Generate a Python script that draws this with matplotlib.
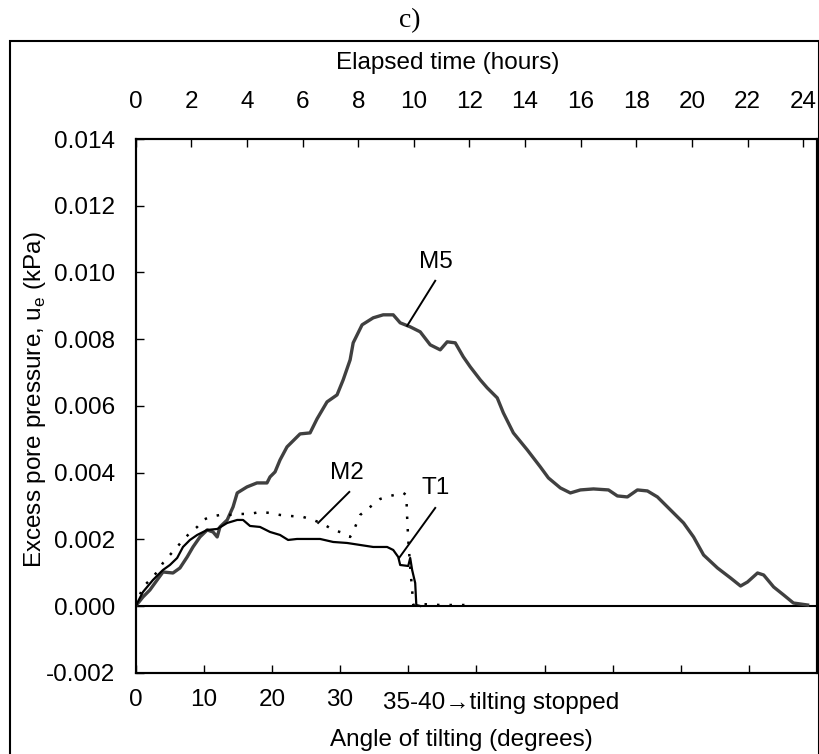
import matplotlib
matplotlib.use("Agg")
import matplotlib.pyplot as plt
from matplotlib.patches import Rectangle

plt.rcParams['font.family'] = ['Liberation Sans', 'DejaVu Sans']
plt.rcParams['font.size'] = 17.5
plt.rcParams['axes.unicode_minus'] = False
plt.rcParams['mathtext.fontset'] = 'custom'
plt.rcParams['mathtext.rm'] = 'Liberation Sans'

# elapsed time (hours) and excess pore pressure (kPa)
m5_t = [0.0, 0.26, 0.51, 0.77, 0.98, 1.34, 1.59, 1.85, 2.06, 2.31, 2.57, 2.78, 2.93, 3.03,
        3.29, 3.50, 3.65, 4.00, 4.36, 4.72, 4.83, 5.01, 5.19, 5.44, 5.91, 6.27, 6.52, 6.88,
        7.24, 7.46, 7.71, 7.82, 8.14, 8.54, 8.90, 9.26, 9.51, 9.87, 10.23, 10.59, 10.95,
        11.20, 11.49, 11.78, 12.03, 12.39, 12.64, 13.00, 13.22, 13.58, 14.08, 14.55, 14.84,
        15.27, 15.63, 15.99, 16.46, 17.00, 17.32, 17.68, 18.04, 18.40, 18.76, 19.23, 19.70,
        20.06, 20.42, 20.92, 21.39, 21.75, 22.00, 22.36, 22.58, 22.94, 23.30, 23.65, 24.16]
m5_u = [0.0, 0.00027, 0.00048, 0.00078, 0.00102, 0.00099, 0.00114, 0.00147, 0.00177, 0.00207,
        0.00228, 0.00222, 0.00207, 0.00237, 0.00258, 0.00297, 0.00339, 0.00357, 0.00369,
        0.00369, 0.00387, 0.00402, 0.00438, 0.00477, 0.00516, 0.00519, 0.00561, 0.00612,
        0.00633, 0.00678, 0.00738, 0.00789, 0.00843, 0.00864, 0.00873, 0.00873, 0.00849,
        0.00837, 0.00822, 0.00783, 0.00768, 0.00792, 0.00789, 0.00747, 0.00717, 0.00678,
        0.00654, 0.00624, 0.00579, 0.00519, 0.00468, 0.00417, 0.00384, 0.00354, 0.00339,
        0.00348, 0.00351, 0.00348, 0.00330, 0.00327, 0.00348, 0.00345, 0.00327, 0.00288,
        0.00249, 0.00207, 0.00153, 0.00114, 0.00084, 0.00060, 0.00072, 0.00099, 0.00093,
        0.00057, 0.00033, 0.00009, 0.00003]

t1_t = [0.0, 0.26, 0.62, 0.87, 0.98, 1.23, 1.49, 1.70, 1.95, 2.21, 2.57, 2.93, 3.29, 3.65,
        3.86, 4.11, 4.47, 4.83, 5.19, 5.48, 5.80, 6.27, 6.63, 7.10, 7.60, 8.07, 8.54, 9.04,
        9.26, 9.44, 9.51, 9.80, 9.87, 9.94, 10.05, 10.09, 10.23]
t1_u = [0.0, 0.00042, 0.00078, 0.00099, 0.00108, 0.00123, 0.00144, 0.00177, 0.00198, 0.00213,
        0.00228, 0.00231, 0.00249, 0.00258, 0.00258, 0.00240, 0.00237, 0.00222, 0.00213,
        0.00198, 0.00201, 0.00201, 0.00201, 0.00192, 0.00189, 0.00183, 0.00177, 0.00177,
        0.00168, 0.00147, 0.00123, 0.00120, 0.00144, 0.00108, 0.00069, 0.00003, 0.0]

m2_t = [0.0, 0.26, 0.51, 0.77, 0.98, 1.23, 1.49, 1.70, 1.95, 2.21, 2.42, 2.67, 3.03, 3.39,
        3.75, 4.11, 4.47, 4.83, 5.19, 5.55, 6.02, 6.38, 6.74, 7.10, 7.46, 7.71, 7.89, 8.07,
        8.43, 8.79, 9.15, 9.62, 9.73, 9.76, 9.80, 9.87, 9.94, 9.98, 10.23, 10.95, 12.0]
m2_u = [0.0, 0.00057, 0.00078, 0.00102, 0.00129, 0.00153, 0.00177, 0.00198, 0.00219, 0.00237,
        0.00258, 0.00267, 0.00273, 0.00273, 0.00276, 0.00276, 0.00282, 0.00279, 0.00273,
        0.00270, 0.00267, 0.00258, 0.00246, 0.00228, 0.00219, 0.00207, 0.00237, 0.00273,
        0.00297, 0.00321, 0.00330, 0.00339, 0.00333, 0.00267, 0.00198, 0.00117, 0.00048,
        0.00003, 0.00006, 0.00003, 0.00003]

# labels: name, text position, leader line (start, end)
lab_names = ['M5', 'M2', 'T1']
lab_xy = [(10.81, 0.01031), (7.60, 0.00399), (10.77, 0.00354)]
lab_line_t = [(10.77, 9.76), (7.68, 6.56), (10.77, 9.47)]
lab_line_u = [(0.00975, 0.00840), (0.00342, 0.00249), (0.00294, 0.00144)]

hour_ticks = list(range(0, 25, 2))
angle_ticks = list(range(0, 101, 10))
angle_labels = ['0', '10', '20', '30', '', '', '', '', '', '', '']
y_ticks = [-0.002, 0.0, 0.002, 0.004, 0.006, 0.008, 0.010, 0.012, 0.014]

fig = plt.figure(figsize=(8.2, 7.54), dpi=100)
ax = fig.add_axes([0.1655, 0.1078, 0.8309, 0.7078])

# bottom axis: angle of tilting
ax.set_xlim(0, 100)
ax.set_ylim(-0.002, 0.014)
ax.set_xticks(angle_ticks)
ax.set_xticklabels(angle_labels)
ax.set_yticks(y_ticks)
ax.set_yticklabels(['%.3f' % v for v in y_ticks])
ax.tick_params(axis='x', direction='in', length=6, width=1, pad=12, top=False)
ax.tick_params(axis='y', direction='in', length=6, width=1, pad=15, right=False)
ax.text(36.3, -0.057, '35-40\u2192tilting stopped', transform=ax.get_xaxis_transform(),
        ha='left', va='center')
ax.set_xlabel('Angle of tilting (degrees)')
ax.xaxis.set_label_coords(0.4775, -0.105)
ax.xaxis.label.set_va('top')
ax.set_ylabel('Excess pore pressure, u$_\\mathregular{e}$ (kPa)')
ax.yaxis.set_label_coords(-0.128, 0.511)

# top axis: elapsed time
ax2 = ax.twiny()
ax2.set_xlim(0, 24.5)
ax2.set_xticks(hour_ticks)
ax2.tick_params(axis='x', direction='in', length=6, width=1, pad=19)
ax2.set_xlabel('Elapsed time (hours)')
ax2.xaxis.set_label_coords(0.458, 1.122)
ax2.xaxis.label.set_va('bottom')

for a in (ax, ax2):
    for s in a.spines.values():
        s.set_linewidth(1.5)

ax2.axhline(0, color='black', lw=1.5)
ax2.plot(m5_t, m5_u, color='#404040', lw=2.4)
ax2.plot(m2_t, m2_u, color='black', lw=1.8, linestyle=(0, (1, 4)))
ax2.plot(t1_t, t1_u, color='black', lw=1.6)

for name, xy, lt, lu in zip(lab_names, lab_xy, lab_line_t, lab_line_u):
    ax2.plot(lt, lu, color='black', lw=1.4)
    ax2.text(xy[0], xy[1], name, ha='center', va='center')

fig.text(0.5, 1 - 21 / 754, 'c)', family='Liberation Serif', size=20,
         ha='center', va='center')
fig.patches.append(Rectangle((10.5 / 820, -0.01), 809 / 820, 0.01 + 1 - 41 / 754,
                             transform=fig.transFigure, fill=False, lw=1.5,
                             edgecolor='black'))

fig.savefig('out.png', dpi=100)
